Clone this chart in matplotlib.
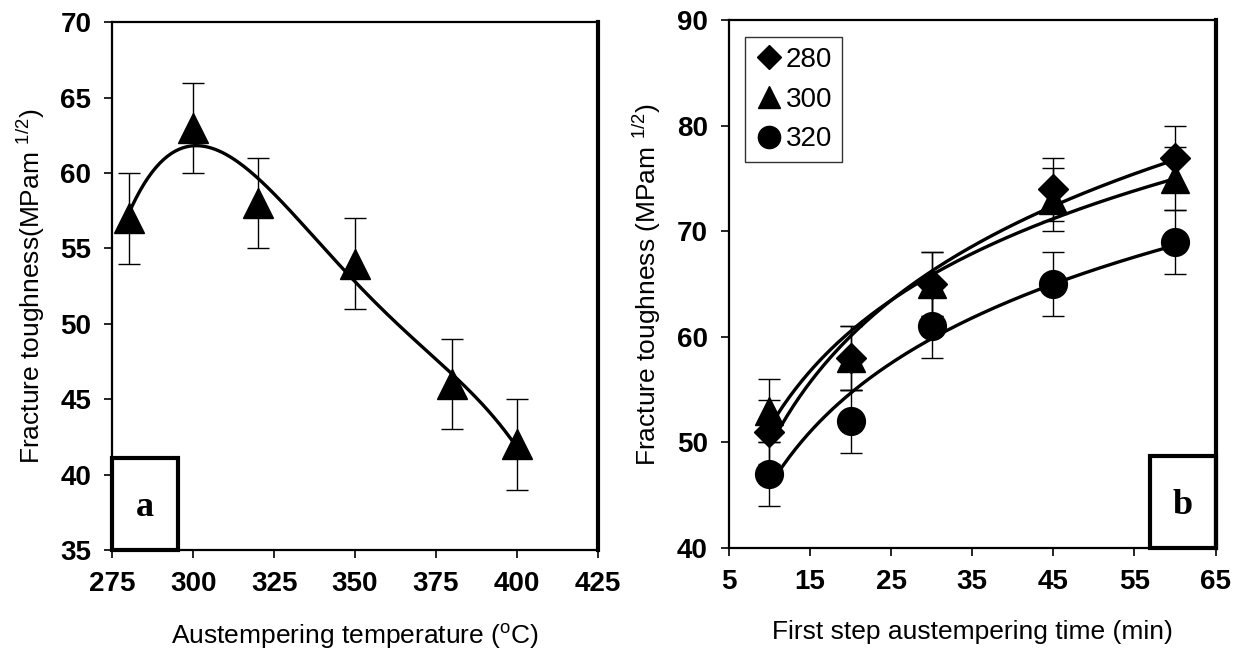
import numpy as np
import matplotlib.pyplot as plt
from matplotlib.patches import Rectangle

# panel a: fracture toughness vs austempering temperature
temp = [280, 300, 320, 350, 380, 400]
tough_a = [57, 63, 58, 54, 46, 42]
err_a = [3, 3, 3, 3, 3, 3]

# panel b: fracture toughness vs first step time
time_b = [10, 20, 30, 45, 60]
tough_280 = [51, 58, 65, 74, 77]
tough_300 = [53, 58, 65, 73, 75]
tough_320 = [47, 52, 61, 65, 69]
err_b = [3, 3, 3, 3, 3]
series_names = ["280", "300", "320"]

plt.rcParams["font.family"] = ["Liberation Sans", "DejaVu Sans"]
plt.rcParams["mathtext.fontset"] = "custom"
plt.rcParams["mathtext.rm"] = "Liberation Sans"

fig = plt.figure(figsize=(12.48, 6.57), dpi=100)
ax1 = fig.add_axes([0.090, 0.163, 0.389, 0.803])
ax2 = fig.add_axes([0.584, 0.166, 0.390, 0.803])


def style_axes(ax):
    for s in ax.spines.values():
        s.set_linewidth(1.6)
    ax.spines["right"].set_linewidth(3.0)
    ax.tick_params(direction="out", length=6, width=1.2, labelsize=20, pad=9)
    for lab in ax.get_xticklabels() + ax.get_yticklabels():
        lab.set_fontweight("bold")


def panel_label(ax, text, x0):
    rect = Rectangle((x0, 0.0), 0.135, 0.175, transform=ax.transAxes,
                     fill=False, lw=3.0, clip_on=False, zorder=5)
    ax.add_patch(rect)
    ax.text(x0 + 0.0675, 0.08, text, transform=ax.transAxes, ha="center",
            va="center", fontsize=26, fontweight="bold",
            family="Liberation Serif")


# ---- panel a
ax1.errorbar(temp, tough_a, yerr=err_a, fmt="none", ecolor="black",
             elinewidth=1.0, capsize=8, capthick=1.0)
ax1.plot(temp, tough_a, "^", color="black", ms=21, zorder=4)
coef = np.polyfit(temp, tough_a, 4)
xs = np.linspace(temp[0], temp[-1], 200)
ax1.plot(xs, np.polyval(coef, xs), color="black", lw=2.4)
ax1.set_xlim(275, 425)
ax1.set_ylim(35, 70)
ax1.set_xticks(np.arange(275, 426, 25))
ax1.set_yticks(np.arange(35, 71, 5))
ax1.set_xlabel(r"Austempering temperature ($^{\mathrm{o}}$C)", fontsize=19,
               labelpad=18)
ax1.set_ylabel(r"Fracture toughness(MPam $^{1/2}$)", fontsize=19, labelpad=10)
style_axes(ax1)
panel_label(ax1, "a", 0.0)

# ---- panel b
markers = ["D", "^", "o"]
sizes = [15, 20, 20]
for ys, m, ms, name in zip([tough_280, tough_300, tough_320], markers, sizes,
                           series_names):
    ax2.errorbar(time_b, ys, yerr=err_b, fmt="none", ecolor="black",
                 elinewidth=1.0, capsize=8, capthick=1.0)
    ax2.plot(time_b, ys, m, color="black", ms=ms, zorder=4, label=name)
    c = np.polyfit(np.log(time_b), ys, 1)
    xs = np.linspace(time_b[0] + 0.5, time_b[-1], 200)
    ax2.plot(xs, c[0] * np.log(xs) + c[1], color="black", lw=2.4)
ax2.set_xlim(5, 65)
ax2.set_ylim(40, 90)
ax2.set_xticks(np.arange(5, 66, 10))
ax2.set_yticks(np.arange(40, 91, 10))
ax2.set_xlabel("First step austempering time (min)", fontsize=19, labelpad=18)
ax2.set_ylabel(r"Fracture toughness (MPam $^{1/2}$)", fontsize=19, labelpad=10)
style_axes(ax2)
panel_label(ax2, "b", 0.865)
leg = ax2.legend(loc="upper left", bbox_to_anchor=(0.005, 0.995), fontsize=20,
                 frameon=True, fancybox=False, handletextpad=0.1,
                 handlelength=1.0, borderpad=0.35, labelspacing=0.5,
                 markerscale=0.8)
leg.get_frame().set_edgecolor("black")
leg.get_frame().set_linewidth(1.0)

fig.savefig("out.png", dpi=100)
